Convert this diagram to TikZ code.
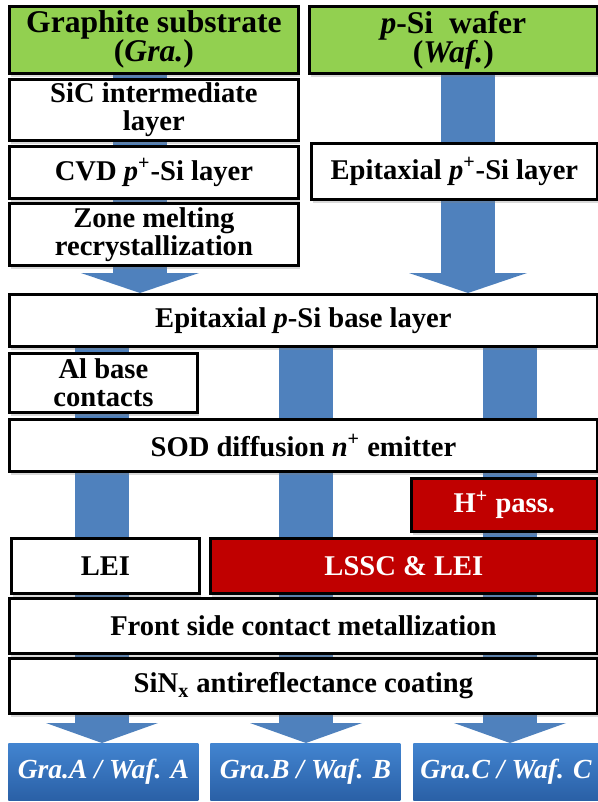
\documentclass[tikz,border=0pt]{standalone}
\usepackage{fontspec}
\setmainfont{Liberation Serif}[BoldFont={Liberation Serif Bold}, ItalicFont={Liberation Serif Italic}, BoldItalicFont={Liberation Serif Bold Italic}]
\usetikzlibrary{positioning}
\usetikzlibrary{arrows.meta}
\usetikzlibrary{shadows}
\usetikzlibrary{backgrounds}

\definecolor{subgreen}{RGB}{146,208,80}
\definecolor{procred}{RGB}{192,0,0}
\definecolor{flowblue}{RGB}{79,129,189}
\definecolor{restop}{RGB}{66,132,208}
\definecolor{resbot}{RGB}{42,96,166}

\begin{document}
\begin{tikzpicture}[x=0.5pt, y=-0.5pt]
% -------------------------------------------------
\tikzset{
  box/.style={draw, line width=1.4pt, anchor=north west, align=center, inner sep=0pt,
              font=\fontsize{14.3}{14}\selectfont\bfseries,
              drop shadow={shadow xshift=1pt, shadow yshift=-2pt, opacity=0.3}},
  plain/.style={box, fill=white},
  subs/.style={box, fill=subgreen, font=\fontsize{15.8}{14.5}\selectfont\bfseries},
  treat/.style={box, fill=procred, text=white},
  result/.style={anchor=north west, align=center, inner sep=0pt, text=white,
                 top color=restop, bottom color=resbot,
                 font=\fontsize{13.8}{15}\selectfont\bfseries\itshape},
  flow/.style={draw=flowblue, line width=27pt, -{Triangle[width=59pt, length=10pt, line width=0pt]}},
  flowend/.style={draw=flowblue, line width=27pt, -{Triangle[width=56pt, length=10pt, line width=0pt]}}
}
    \useasboundingbox (0,0) rectangle (598,802);

    % substrates
    \node [subs, minimum width=144.5pt, minimum height=33.5pt] (gra) at (8,5) {Graphite substrate\\(\textit{Gra.})};
    \node [subs, minimum width=144pt, minimum height=33.5pt] (waf) at (308,5) {\textit{p}-Si\ \ wafer\\(\textit{Waf.})};

    % graphite branch
    \node [plain, minimum width=144.5pt, minimum height=30.5pt] (sic) at (8,78) {SiC intermediate\\layer};
    \node [plain, minimum width=144.5pt, minimum height=26pt] (cvd) at (8,145) {CVD \textit{p}\textsuperscript{+}-Si layer};
    \node [plain, minimum width=144.5pt, minimum height=31pt] (zmr) at (8,202) {Zone melting\\recrystallization};

    % wafer branch
    \node [plain, minimum width=143pt, minimum height=28pt] (epi) at (310,142) {Epitaxial \textit{p}\textsuperscript{+}-Si layer};

    % common process
    \node [plain, minimum width=294pt, minimum height=26pt] (bsl) at (8,293) {Epitaxial \textit{p}-Si base layer};
    \node [plain, minimum width=94pt, minimum height=29.5pt] (alc) at (8,352) {Al base\\contacts};
    \node [plain, minimum width=294pt, minimum height=26pt] (sod) at (8,418) {SOD diffusion \textit{n}\textsuperscript{+} emitter};
    \node [treat, minimum width=93pt, minimum height=26.5pt] (hps) at (410,477) {H\textsuperscript{+} pass.};
    \node [plain, minimum width=94pt, minimum height=27.5pt] (lei) at (10,537) {LEI};
    \node [treat, minimum width=193.5pt, minimum height=27.5pt] (lssc) at (209,537) {LSSC \& LEI};
    \node [plain, minimum width=294pt, minimum height=27.5pt] (fsc) at (8,597) {Front side contact metallization};
    \node [plain, minimum width=294pt, minimum height=27.5pt] (arc) at (8,657) {SiN\textsubscript{x} antireflectance coating};

    % cells
    \node [result, minimum width=95pt, minimum height=28.5pt] (resA) at (8,743) {Gra.A / Waf. A};
    \node [result, minimum width=95pt, minimum height=28.5pt] (resB) at (210,743) {Gra.B / Waf. B};
    \node [result, minimum width=92.5pt, minimum height=28.5pt] (resC) at (413,743) {Gra.C / Waf. C};

    % arrow columns
    \coordinate (gcol) at (140,0);
    \coordinate (wcol) at (468,0);
    \coordinate (acol) at (102,0);
    \coordinate (bcol) at (306,0);
    \coordinate (ccol) at (510,0);

    \begin{scope}[on background layer]
    \draw [flow] (gra.south -| gcol) -- (bsl.north -| gcol);
    \draw [flow] (waf.south -| wcol) -- (bsl.north -| wcol);
    \draw [flowend] (bsl.center -| acol) -- (resA.north -| acol);
    \draw [flowend] (bsl.center -| bcol) -- (resB.north -| bcol);
    \draw [flowend] (bsl.center -| ccol) -- (resC.north -| ccol);
    \end{scope}

\end{tikzpicture}
\end{document}
